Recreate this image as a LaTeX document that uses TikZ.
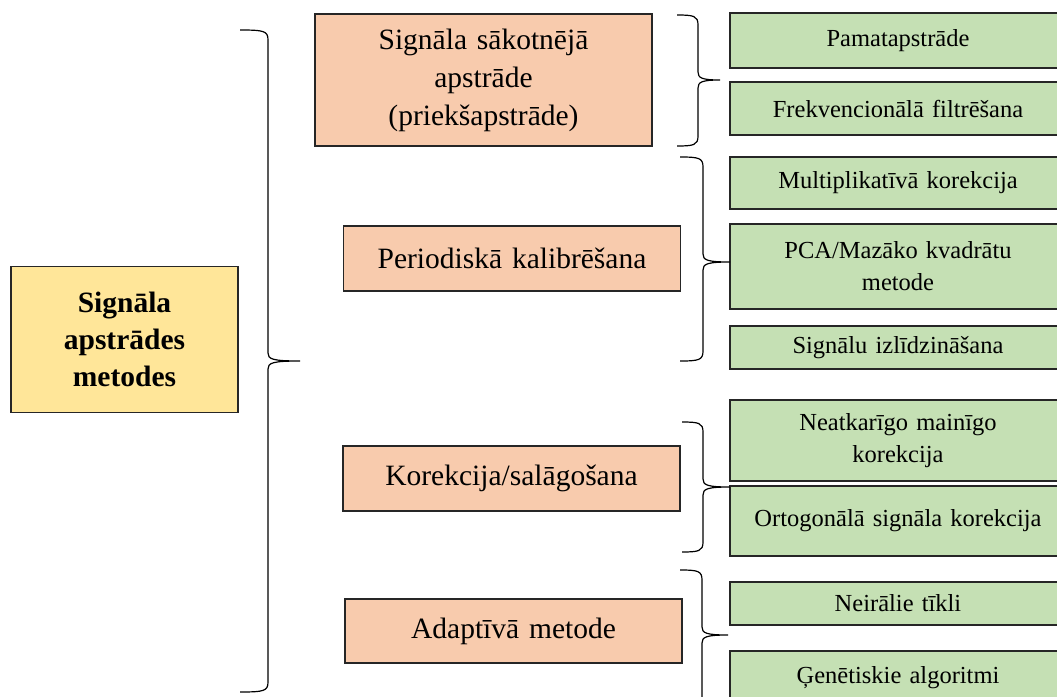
\documentclass[tikz,border=0pt]{standalone}
\usepackage{fontspec}
\setmainfont{Liberation Serif}
\definecolor{orangefill}{HTML}{F8CBAD}
\definecolor{greenfill}{HTML}{C5E0B4}
\definecolor{yellowfill}{HTML}{FFE699}
\definecolor{edge}{HTML}{262626}
\tikzset{
  base/.style={draw=edge, line width=1.2pt, align=center, inner sep=2pt},
  mainbox/.style={base, fill=yellowfill, font=\fontsize{29.5}{37}\selectfont\bfseries, minimum width=227pt, minimum height=146pt, text width=220pt},
  catbox/.style={base, fill=orangefill, font=\fontsize{29.5}{38}\selectfont, minimum width=337pt, text width=330pt},
  leafbox/.style={base, fill=greenfill, font=\fontsize{24.5}{32}\selectfont, minimum width=336pt, text width=330pt},
  brace/.style={draw=black, line width=1.2pt}
}
\newcommand{\bracepath}[6]{% xend, xv, xtip, ytop, ymid, ybot
  \draw[brace] (#1,#4) .. controls (#2-4,#4) and (#2,#4+1) .. (#2,#4+10)
    -- (#2,#5-8) .. controls (#2,#5-2) and (#2+4,#5) .. (#3,#5)
    (#2,#6-10) -- (#2,#5+8) .. controls (#2,#5+2) and (#2+4,#5) .. (#3,#5)
    (#2,#6-10) .. controls (#2,#6-1) and (#2-4,#6) .. (#1,#6);
}
\begin{document}
\begin{tikzpicture}[x=1pt,y=-1pt]
\useasboundingbox (0,0) rectangle (1057,696);
\clip (0,0) rectangle (1057,696);
% main
\node[mainbox] (main) at (124.5,339.5) {Signāla\\apstrādes\\metodes};
% categories
\node[catbox, minimum height=132pt] (c1) at (483.5,80) {Signāla sākotnējā\\apstrāde\\(priekšapstrāde)};
\node[catbox, minimum height=65pt] (c2) at (512,258.5) {Periodiskā kalibrēšana};
\node[catbox, minimum height=65pt] (c3) at (511.5,478.5) {Korekcija/salāgošana};
\node[catbox, minimum height=64pt] (c4) at (513.5,631) {Adaptīvā metode};
% leaves
\node[leafbox, minimum height=55pt] (l1) at (898,40.5) {Pamatapstrāde};
\node[leafbox, minimum height=53pt] (l2) at (898,108.5) {Frekvencionālā filtrēšana};
\node[leafbox, minimum height=52pt] (l3) at (898,183) {Multiplikatīvā korekcija};
\node[leafbox, minimum height=85pt] (l4) at (898,266.5) {PCA/Mazāko kvadrātu\\metode};
\node[leafbox, minimum height=43pt] (l5) at (898,347.5) {Signālu izlīdzināšana};
\node[leafbox, minimum height=81pt] (l6) at (898,440.5) {Neatkarīgo mainīgo\\korekcija};
\node[leafbox, minimum height=70pt] (l7) at (898,521) {Ortogonālā signāla korekcija};
\node[leafbox, minimum height=43pt] (l8) at (898,603.5) {Neirālie tīkli};
\node[leafbox, minimum height=54pt] (l9) at (898,678) {Ģenētiskie algoritmi};
% braces
\bracepath{240}{268}{300}{30}{361}{692}
\bracepath{677}{698}{720}{15}{80}{146}
\bracepath{680}{703}{730}{157}{262}{361}
\bracepath{682}{703}{730}{422}{487}{552}
\bracepath{680}{702}{728}{570}{635}{712}
\end{tikzpicture}
\end{document}
